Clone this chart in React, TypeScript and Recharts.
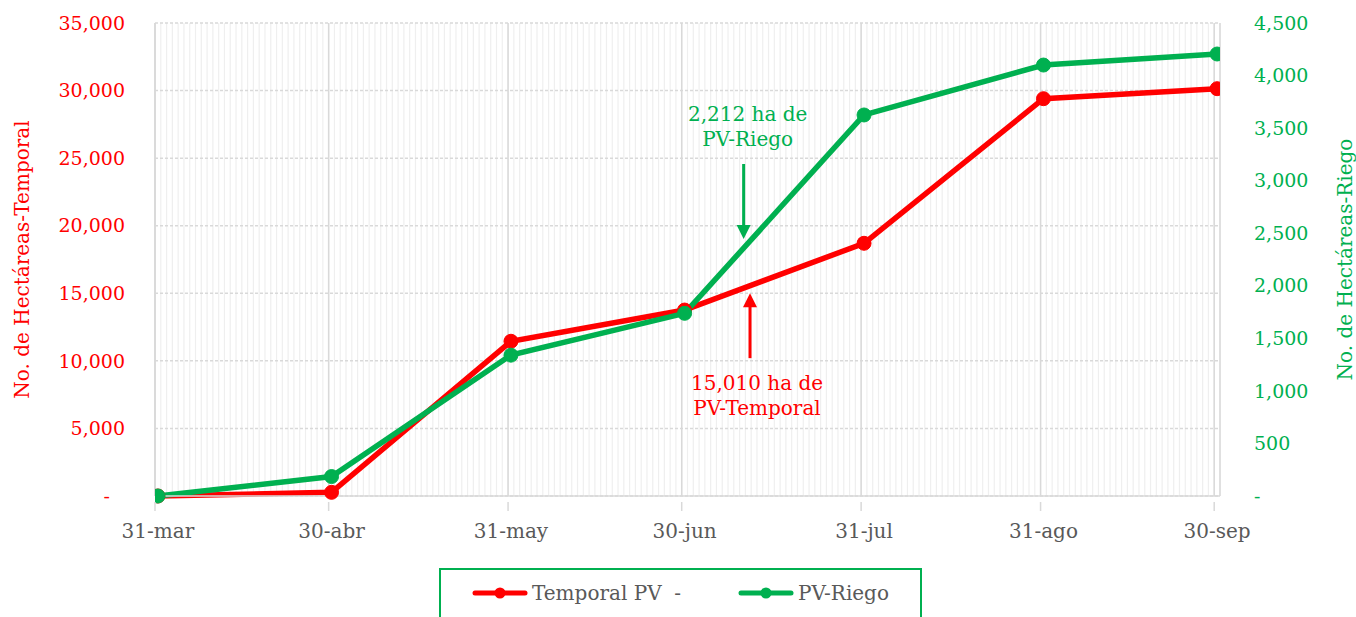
import {
  LineChart,
  Line,
  XAxis,
  YAxis,
  CartesianGrid,
  Legend,
  Label,
  ReferenceDot,
} from 'recharts';

// days counted from 31-mar
const DAYS = [0, 30, 61, 91, 122, 153, 183];
const DATE_LABELS = ['31-mar', '30-abr', '31-may', '30-jun', '31-jul', '31-ago', '30-sep'];
const TEMPORAL = [0, 270, 11450, 13760, 18700, 29400, 30140];
const RIEGO = [0, 185, 1340, 1738, 3625, 4100, 4205];
const LEFT_TICKS = [0, 5000, 10000, 15000, 20000, 25000, 30000, 35000];
const RIGHT_TICKS = [0, 500, 1000, 1500, 2000, 2500, 3000, 3500, 4000, 4500];
const SERIES_NAMES = ['Temporal PV  -', 'PV-Riego'];

const TEMPORAL_NOTE = { day: 102.3, value: 15010, lines: ['15,010 ha de', 'PV-Temporal'] };
const RIEGO_NOTE = { day: 101.2, value: 2445, lines: ['2,212 ha de', 'PV-Riego'] };

const data = DAYS.map((day, i) => ({ day, temporal: TEMPORAL[i], riego: RIEGO[i] }));
const gridDays = DAYS.map((d) => d - 0.5);
const minorDays = Array.from({ length: DAYS[DAYS.length - 1] + 2 }, (_, i) => i - 0.5);

const RED = '#ff0000';
const GREEN = '#00b050';
const GRAY_TEXT = '#595959';
const FONT = "'DejaVu Serif', serif";
const DOMAIN: [number, number] = [-0.5, 183.5];

const fmt = (v: number) => (v === 0 ? '-' : v.toLocaleString('en-US'));

const LeftTick = ({ x, y, payload }: any) => (
  <text
    x={payload.value === 0 ? x - 15 : x}
    y={y}
    dy="0.35em"
    textAnchor="end"
    fill={RED}
    fontSize={19}
    fontFamily={FONT}
  >
    {fmt(payload.value)}
  </text>
);

const RightTick = ({ x, y, payload }: any) => (
  <text x={x} y={y} dy="0.35em" textAnchor="start" fill={GREEN} fontSize={19} fontFamily={FONT}>
    {fmt(payload.value)}
  </text>
);

const DateTick = ({ x, y, payload }: any) => (
  <g>
    <line x1={x - 2.9} x2={x - 2.9} y1={y - 22} y2={y - 13} stroke="#d9d9d9" strokeWidth={1.5} />
    <text x={x} y={y} dy="0.71em" textAnchor="middle" fill={GRAY_TEXT} fontSize={20} fontFamily={FONT}>
      {DATE_LABELS[DAYS.indexOf(payload.value)]}
    </text>
  </g>
);

const LeftTitle = ({ viewBox }: any) => {
  const cx = viewBox.x + 22;
  const cy = viewBox.y + viewBox.height / 2;
  return (
    <text
      x={cx}
      y={cy}
      transform={`rotate(-90, ${cx}, ${cy})`}
      textAnchor="middle"
      dominantBaseline="central"
      fill={RED}
      fontSize={20}
      fontFamily={FONT}
    >
      No. de Hectáreas-Temporal
    </text>
  );
};

const RightTitle = ({ viewBox }: any) => {
  const cx = viewBox.x + 125;
  const cy = viewBox.y + viewBox.height / 2;
  return (
    <text
      x={cx}
      y={cy}
      transform={`rotate(-90, ${cx}, ${cy})`}
      textAnchor="middle"
      dominantBaseline="central"
      fill={GREEN}
      fontSize={20}
      fontFamily={FONT}
    >
      No. de Hectáreas-Riego
    </text>
  );
};

// arrow pointing up at the dot, text below
const TemporalArrow = ({ cx, cy }: any) => (
  <g>
    <line x1={cx} x2={cx} y1={cy + 12} y2={cy + 65} stroke={RED} strokeWidth={3} />
    <polygon points={`${cx},${cy} ${cx - 7},${cy + 14} ${cx + 7},${cy + 14}`} fill={RED} />
    {TEMPORAL_NOTE.lines.map((t, i) => (
      <text key={t} x={cx + 7} y={cy + 97 + i * 25} textAnchor="middle" fill={RED} fontSize={20} fontFamily={FONT}>
        {t}
      </text>
    ))}
  </g>
);

// arrow pointing down at the dot, text above
const RiegoArrow = ({ cx, cy }: any) => (
  <g>
    <line x1={cx} x2={cx} y1={cy - 75} y2={cy - 12} stroke={GREEN} strokeWidth={3} />
    <polygon points={`${cx},${cy} ${cx - 7},${cy - 14} ${cx + 7},${cy - 14}`} fill={GREEN} />
    {RIEGO_NOTE.lines.map((t, i) => (
      <text key={t} x={cx + 4} y={cy - 118 + i * 25} textAnchor="middle" fill={GREEN} fontSize={20} fontFamily={FONT}>
        {t}
      </text>
    ))}
  </g>
);

const LegendBox = ({ payload }: any) => {
  const items = [...(payload || [])].sort(
    (a: any, b: any) => SERIES_NAMES.indexOf(a.value) - SERIES_NAMES.indexOf(b.value)
  );
  return (
    <div
      style={{
        boxSizing: 'border-box',
        width: 483,
        height: 56,
        border: `2px solid ${GREEN}`,
        display: 'flex',
        alignItems: 'flex-start',
        paddingLeft: 31,
        paddingTop: 10,
        fontFamily: FONT,
        fontSize: 20,
        color: GRAY_TEXT,
      }}
    >
      {items.map((p: any, i: number) => (
        <div key={p.value} style={{ display: 'flex', alignItems: 'center', width: i === 0 ? 266 : 'auto', height: 26 }}>
          <svg width={56} height={14} style={{ marginRight: 4 }}>
            <line x1={3} x2={53} y1={7} y2={7} stroke={p.color} strokeWidth={5} strokeLinecap="round" />
            <circle cx={28} cy={7} r={5.5} fill={p.color} />
          </svg>
          <span style={{ whiteSpace: 'pre' }}>{p.value}</span>
        </div>
      ))}
    </div>
  );
};

export default function App() {
  return (
    <div style={{ position: 'absolute', left: 0, top: 0, background: '#fff' }}>
      <LineChart
        width={1356}
        height={617}
        data={data}
        margin={{ top: 23, right: 0, bottom: 0, left: 0 }}
        style={{ fontFamily: FONT }}
      >
        <XAxis xAxisId="minor" type="number" dataKey="day" domain={DOMAIN} ticks={minorDays} interval={0} hide allowDataOverflow />
        <XAxis xAxisId="major" type="number" dataKey="day" domain={DOMAIN} ticks={gridDays} interval={0} hide allowDataOverflow />
        <CartesianGrid xAxisId="minor" yAxisId="left" horizontal={false} stroke="#efefef" strokeWidth={1.2} />
        <CartesianGrid xAxisId="major" yAxisId="left" vertical={false} stroke="#d9d9d9" strokeDasharray="3 2" strokeWidth={1.5} />
        <CartesianGrid xAxisId="major" yAxisId="left" horizontal={false} stroke="#d9d9d9" strokeWidth={1.5} />
        <XAxis
          type="number"
          dataKey="day"
          domain={DOMAIN}
          ticks={DAYS}
          interval={0}
          height={65}
          tick={<DateTick />}
          tickLine={false}
          tickMargin={22}
          axisLine={{ stroke: '#d9d9d9', strokeWidth: 1.5 }}
          allowDataOverflow
        />
        <YAxis
          yAxisId="left"
          width={155}
          domain={[0, 35000]}
          ticks={LEFT_TICKS}
          interval={0}
          tick={<LeftTick />}
          tickLine={false}
          tickMargin={24}
          axisLine={{ stroke: '#d9d9d9', strokeWidth: 1.5 }}
        >
          <Label content={<LeftTitle />} />
        </YAxis>
        <YAxis
          yAxisId="right"
          orientation="right"
          width={136}
          domain={[0, 4500]}
          ticks={RIGHT_TICKS}
          interval={0}
          tick={<RightTick />}
          tickLine={false}
          tickMargin={28}
          axisLine={false}
        >
          <Label content={<RightTitle />} />
        </YAxis>
        <Line
          yAxisId="left"
          dataKey="temporal"
          name={SERIES_NAMES[0]}
          stroke={RED}
          strokeWidth={5.5}
          dot={{ r: 7, fill: RED, stroke: RED, strokeWidth: 1 }}
          isAnimationActive={false}
        />
        <Line
          yAxisId="right"
          dataKey="riego"
          name={SERIES_NAMES[1]}
          stroke={GREEN}
          strokeWidth={5.5}
          dot={{ r: 7, fill: GREEN, stroke: GREEN, strokeWidth: 1 }}
          isAnimationActive={false}
        />
        <ReferenceDot yAxisId="left" x={TEMPORAL_NOTE.day} y={TEMPORAL_NOTE.value} shape={<TemporalArrow />} />
        <ReferenceDot yAxisId="right" x={RIEGO_NOTE.day} y={RIEGO_NOTE.value} shape={<RiegoArrow />} />
        <Legend
          content={<LegendBox />}
          verticalAlign="bottom"
          wrapperStyle={{ left: 439, top: 568, width: 483 }}
        />
      </LineChart>
    </div>
  );
}
